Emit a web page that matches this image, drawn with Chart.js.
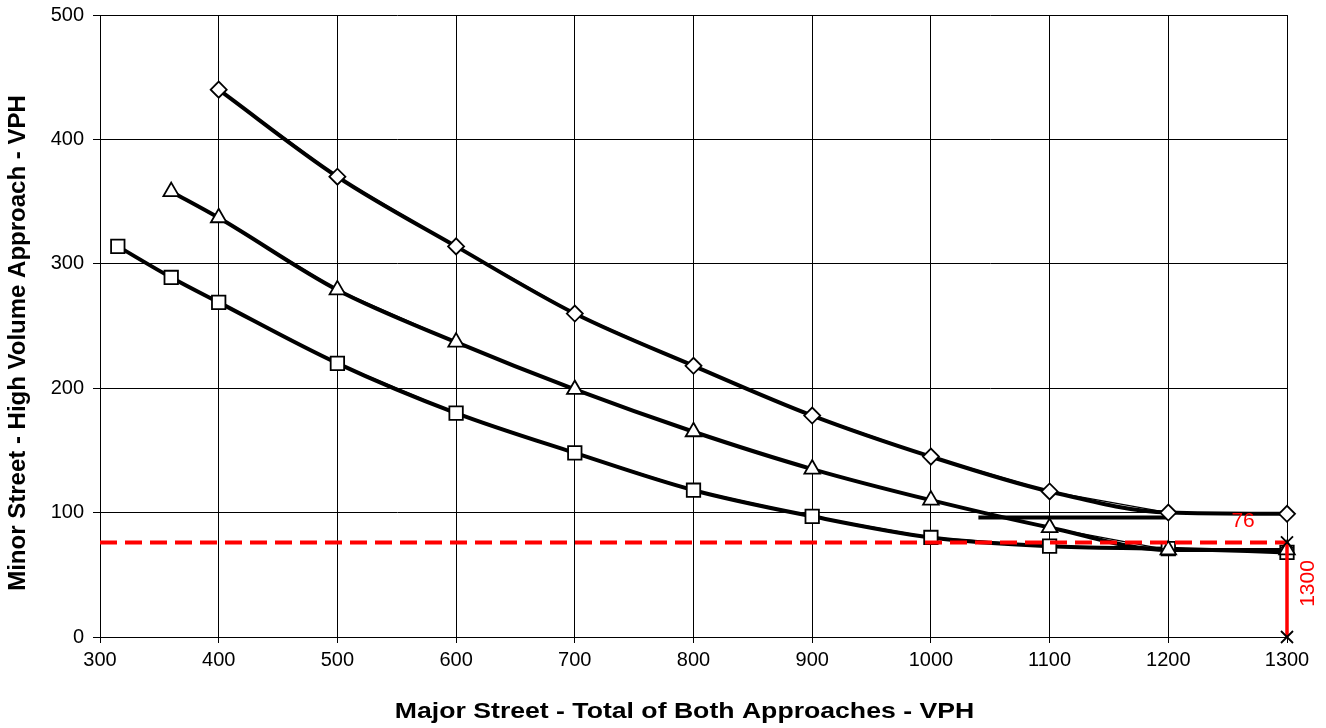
<!DOCTYPE html>
<html>
<head>
<meta charset="utf-8">
<script src="https://cdn.jsdelivr.net/npm/chart.js@4.4.1/dist/chart.umd.min.js"></script>
<style>
  html, body { margin: 0; padding: 0; background: #fff; }
  #wrap { width: 1326px; height: 728px; }
</style>
</head>
<body>
<div id="wrap"><canvas id="c" width="1326" height="728"></canvas></div>
<script>
// Major street volume (x) and minor street volume (y) for each warrant curve
const upperX = [400, 500, 600, 700, 800, 900, 1000, 1100, 1200, 1300];
const upperY = [440, 370, 314, 260, 218, 178, 145, 117, 100, 99];

const middleX = [360, 400, 500, 600, 700, 800, 900, 1000, 1100, 1200, 1300];
const middleY = [358, 337, 279, 237, 199, 165, 135, 110, 88, 70, 70];

const lowerX = [315, 360, 400, 500, 600, 700, 800, 900, 1000, 1100, 1200, 1300];
const lowerY = [314, 289, 269, 220, 180, 148, 118, 97, 80, 73, 71, 68];

// Flat floor segment on the upper curve
const floorX = [1040, 1200];
const floorY = [96, 96];

// Study point: major street 1300 VPH, minor street 76 VPH
const studyMajor = 1300;
const studyMinor = 76;
const refLineX = [300, 1300];

const xTicks = [300, 400, 500, 600, 700, 800, 900, 1000, 1100, 1200, 1300];
const yTicks = [0, 100, 200, 300, 400, 500];

const xTitle = 'Major Street - Total of Both Approaches - VPH';
const yTitle = 'Minor Street - High Volume Approach - VPH';

const FONT = '"Liberation Sans", Arial, sans-serif';

const pts = (xs, ys) => xs.map((x, i) => ({ x: x, y: ys[i] }));

const curve = (xs, ys) => ({
  data: pts(xs, ys),
  borderColor: '#000',
  borderWidth: 4,
  pointRadius: 0,
  cubicInterpolationMode: 'monotone',
  fill: false,
  order: 3
});

const markers = (xs, ys, style, r) => ({
  data: pts(xs, ys),
  borderColor: '#000',
  borderWidth: 1.3,
  pointStyle: style,
  pointRadius: r,
  pointBackgroundColor: '#fff',
  pointBorderColor: '#000',
  pointBorderWidth: 1.8,
  tension: 0,
  fill: false,
  clip: false,
  order: 2
});

// Axis titles and red value labels
const textPlugin = {
  id: 'chartText',
  afterDatasetsDraw(chart) {
    const { ctx, scales, chartArea } = chart;
    const x = scales.x, y = scales.y;
    ctx.save();
    ctx.textAlign = 'center';
    ctx.textBaseline = 'middle';

    ctx.fillStyle = '#ff0000';
    ctx.font = '21px ' + FONT;
    ctx.fillText(String(studyMinor), x.getPixelForValue(1263), y.getPixelForValue(studyMinor + 17));
    ctx.save();
    ctx.translate(x.getPixelForValue(studyMajor) + 21, y.getPixelForValue(studyMinor / 2 + 5));
    ctx.rotate(-Math.PI / 2);
    ctx.fillText(String(studyMajor), 0, 0);
    ctx.restore();

    ctx.fillStyle = '#000';
    ctx.font = 'bold 22px ' + FONT;
    ctx.save();
    ctx.translate((chartArea.left + chartArea.right) / 2 - 9, 712);
    ctx.scale(1.21, 1);
    ctx.fillText(xTitle, 0, 0);
    ctx.restore();

    ctx.font = 'bold 24px ' + FONT;
    ctx.save();
    ctx.translate(18, 343);
    ctx.rotate(-Math.PI / 2);
    ctx.fillText(yTitle, 0, 0);
    ctx.restore();
    ctx.restore();
  }
};

new Chart(document.getElementById('c'), {
  type: 'line',
  data: {
    datasets: [
      curve(upperX, upperY),
      curve(middleX, middleY),
      curve(lowerX, lowerY),
      curve(floorX, floorY),
      markers(upperX, upperY, 'rectRot', 8),
      markers(middleX, middleY, 'triangle', 9),
      markers(lowerX, lowerY, 'rect', 9.5),
      {
        data: pts(refLineX, [studyMinor, studyMinor]),
        borderColor: '#ff0000',
        borderWidth: 4,
        borderDash: [17, 8],
        pointRadius: 0,
        fill: false,
        clip: false,
        order: 1
      },
      {
        data: pts([studyMajor, studyMajor], [0, studyMinor]),
        borderColor: '#ff0000',
        borderWidth: 3.5,
        pointStyle: 'crossRot',
        pointRadius: 8.5,
        pointBorderColor: '#000',
        pointBorderWidth: 1.8,
        fill: false,
        clip: false,
        order: 0
      }
    ]
  },
  options: {
    responsive: false,
    animation: false,
    events: [],
    layout: { padding: { top: 15, right: 39, left: 0, bottom: 0 } },
    plugins: { legend: { display: false }, tooltip: { enabled: false } },
    scales: {
      x: {
        type: 'linear',
        min: 300,
        max: 1300,
        afterBuildTicks: (s) => { s.ticks = xTicks.map(v => ({ value: v })); },
        afterFit: (s) => { s.height = 91; s.paddingLeft = 0; s.paddingRight = 0; },
        grid: { color: '#000', lineWidth: 1, tickLength: 6, drawTicks: true },
        border: { color: '#000', width: 1 },
        ticks: {
          color: '#000',
          maxRotation: 0,
          padding: 5,
          callback: (v) => String(v),
          font: { family: FONT, size: 20 }
        },
        title: { display: false }
      },
      y: {
        type: 'linear',
        min: 0,
        max: 500,
        afterBuildTicks: (s) => { s.ticks = yTicks.map(v => ({ value: v })); },
        afterFit: (s) => { s.width = 100; s.paddingTop = 0; s.paddingBottom = 0; },
        grid: { color: '#000', lineWidth: 1, tickLength: 7, drawTicks: true },
        border: { color: '#000', width: 1 },
        ticks: {
          color: '#000',
          padding: 9,
          callback: (v) => String(v),
          font: { family: FONT, size: 20 }
        },
        title: { display: false }
      }
    }
  },
  plugins: [textPlugin]
});
</script>
</body>
</html>
